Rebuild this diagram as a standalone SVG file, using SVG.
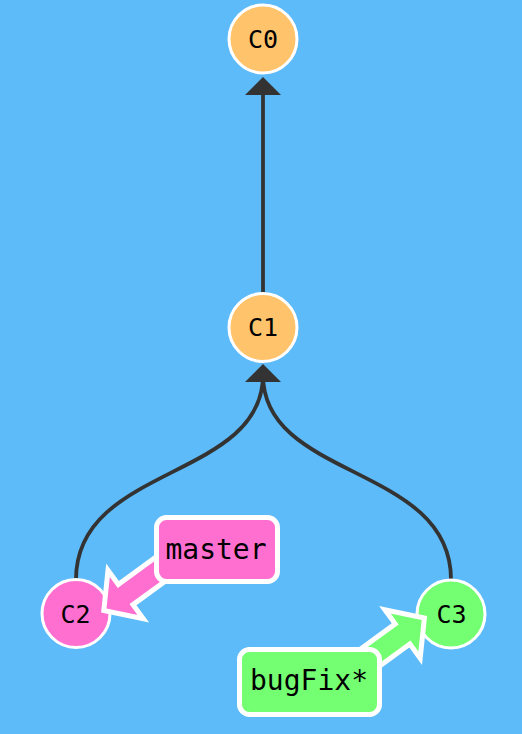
<svg xmlns="http://www.w3.org/2000/svg" width="522" height="734" viewBox="0 0 522 734">
<style>
.edge{fill:none;stroke:#333333;stroke-width:3.8}
.head{fill:#333333}
.commit{stroke:#ffffff;stroke-width:3}
.ctext{font-family:"DejaVu Sans Mono","Liberation Mono",monospace;font-size:25px;fill:#000000;text-anchor:middle}
.btext{font-family:"DejaVu Sans Mono","Liberation Mono",monospace;font-size:28px;fill:#000000;text-anchor:middle}
.box{stroke:#ffffff;stroke-width:5}
.arrow{stroke:#ffffff;stroke-width:5;stroke-linejoin:miter;stroke-miterlimit:10}
.orange{fill:#FFC46B}
.pink{fill:#FF6FD0}
.green{fill:#74FF72}
</style>
<rect x="0" y="0" width="522" height="734" fill="#5EBBF9"/>
<g id="connectors">
<path class="edge" d="M263,293.5 L263,90"/>
<polygon class="head" points="263,77 245,95 281,95"/>
<path class="edge" d="M76,579.5 C76,464.5 263,480 263,375"/>
<path class="edge" d="M451,579.5 C451,464.5 263,480 263,375"/>
<polygon class="head" points="263,364 245,382 281,382"/>
</g>
<g id="C0"><circle class="commit orange" cx="263" cy="39" r="34"/><text class="ctext" x="263" y="47.5">C0</text></g>
<g id="C1"><circle class="commit orange" cx="263" cy="327.5" r="34"/><text class="ctext" x="263" y="336">C1</text></g>
<g id="C2"><circle class="commit pink" cx="76" cy="613.5" r="34"/><text class="ctext" x="75.5" y="622.5">C2</text></g>
<g id="C3"><circle class="commit green" cx="451" cy="614" r="34"/><text class="ctext" x="451.5" y="623">C3</text></g>
<g id="master">
<path class="arrow pink" transform="translate(103.8,610.4) rotate(-36)" d="M0,0 L27,-30 L27,-12.5 L85,-12.5 L85,12.5 L27,12.5 L27,30 Z"/>
<rect class="box pink" x="156.5" y="517.5" width="121" height="64" rx="10"/>
<text class="btext" x="216" y="559">master</text>
</g>
<g id="bugFix">
<path class="arrow green" transform="translate(424.4,618.1) rotate(144)" d="M0,0 L27,-30 L27,-12.5 L85,-12.5 L85,12.5 L27,12.5 L27,30 Z"/>
<rect class="box green" x="239.5" y="649.5" width="140" height="65" rx="10"/>
<text class="btext" x="309" y="690">bugFix*</text>
</g>
</svg>
